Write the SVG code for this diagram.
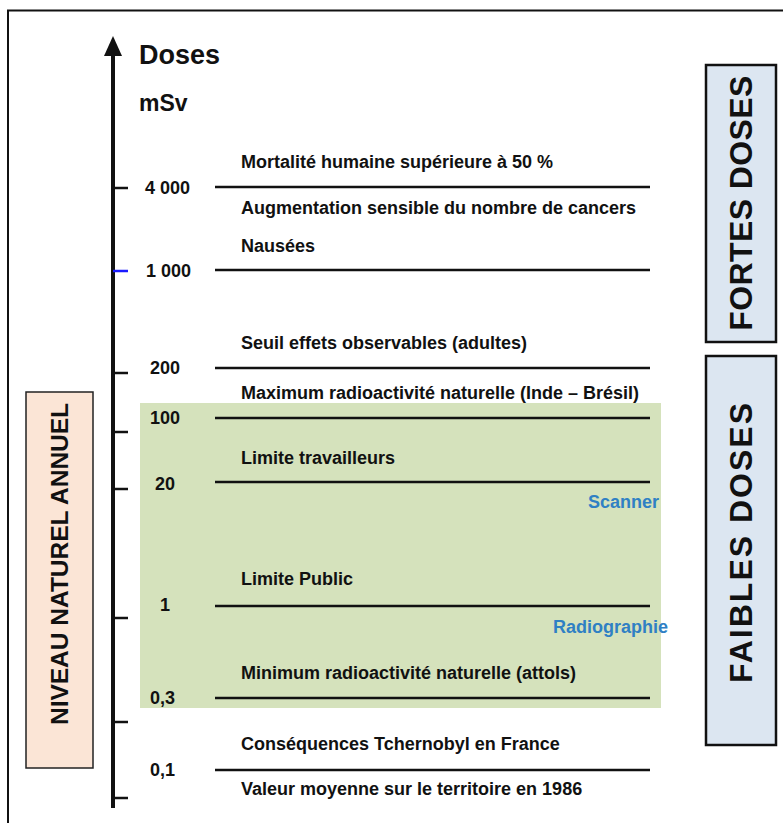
<svg xmlns="http://www.w3.org/2000/svg" width="783" height="823" viewBox="0 0 783 823">
<style>
text{font-family:"Liberation Sans",Arial,sans-serif;font-weight:bold;fill:#111}
.lbl{font-size:18px}
.val{font-size:18px}
.blue{font-size:18px;fill:#2f80c4}
.lvl{stroke:#111;stroke-width:2.5}
.tick{stroke:#111;stroke-width:2.5}
.side{fill:#dce6f1;stroke:#111;stroke-width:2.5}
.side text{font-size:32px;stroke:none;fill:#111}
</style>
<rect width="783" height="823" fill="#fff"/>
<path d="M8 823 V10.5 H783" fill="none" stroke="#111" stroke-width="2"/>
<rect id="zone-naturel" x="140" y="403" width="521" height="305" fill="#d5e2bc"/>
<g id="axis">
<line x1="113" y1="808" x2="113" y2="52" stroke="#111" stroke-width="4"/>
<polygon points="113,36 104,56 122,56" fill="#111"/>
<line class="tick" x1="113" y1="188" x2="128" y2="188"/>
<line x1="113" y1="271" x2="128" y2="271" stroke="#1a1aff" stroke-width="2.5"/>
<line class="tick" x1="113" y1="373" x2="128" y2="373"/>
<line class="tick" x1="113" y1="432" x2="128" y2="432"/>
<line class="tick" x1="113" y1="489" x2="128" y2="489"/>
<line class="tick" x1="113" y1="618" x2="128" y2="618"/>
<line class="tick" x1="113" y1="722" x2="128" y2="722"/>
<line class="tick" x1="113" y1="798" x2="128" y2="798"/>
<text x="139" y="64" font-size="27">Doses</text>
<text x="139" y="111" font-size="23">mSv</text>
</g>
<g id="levels">
<line class="lvl" x1="215" y1="187" x2="650" y2="187"/>
<line class="lvl" x1="215" y1="270" x2="650" y2="270"/>
<line class="lvl" x1="215" y1="368" x2="650" y2="368"/>
<line class="lvl" x1="215" y1="418" x2="650" y2="418"/>
<line class="lvl" x1="215" y1="482" x2="650" y2="482"/>
<line class="lvl" x1="215" y1="606" x2="650" y2="606"/>
<line class="lvl" x1="215" y1="698" x2="650" y2="698"/>
<line class="lvl" x1="215" y1="770" x2="650" y2="770"/>
</g>
<g id="values">
<text class="val" x="145" y="194">4 000</text>
<text class="val" x="146" y="277">1 000</text>
<text class="val" x="150" y="374">200</text>
<text class="val" x="150" y="424">100</text>
<text class="val" x="155" y="490">20</text>
<text class="val" x="160" y="611">1</text>
<text class="val" x="150" y="704">0,3</text>
<text class="val" x="150" y="776">0,1</text>
</g>
<g id="labels">
<text class="lbl" x="241" y="168">Mortalité humaine supérieure à 50 %</text>
<text class="lbl" x="241" y="214">Augmentation sensible du nombre de cancers</text>
<text class="lbl" x="241" y="252">Nausées</text>
<text class="lbl" x="241" y="349">Seuil effets observables (adultes)</text>
<text class="lbl" x="241" y="399">Maximum radioactivité naturelle (Inde – Brésil)</text>
<text class="lbl" x="241" y="464">Limite travailleurs</text>
<text class="lbl" x="241" y="585">Limite Public</text>
<text class="lbl" x="241" y="679">Minimum radioactivité naturelle (attols)</text>
<text class="lbl" x="241" y="750">Conséquences Tchernobyl en France</text>
<text class="lbl" x="241" y="795">Valeur moyenne sur le territoire en 1986</text>
<text class="blue" x="588" y="508">Scanner</text>
<text class="blue" x="553" y="633">Radiographie</text>
</g>
<g id="fortes-doses" class="side">
<rect x="706" y="65" width="70" height="277"/>
<text transform="translate(752,203) rotate(-90)" text-anchor="middle" letter-spacing="0.4">FORTES  DOSES</text>
</g>
<g id="faibles-doses" class="side">
<rect x="706" y="356" width="70" height="389"/>
<text transform="translate(752,542) rotate(-90)" text-anchor="middle" letter-spacing="2">FAIBLES  DOSES</text>
</g>
<g id="niveau-naturel">
<rect x="26" y="392" width="67" height="376" fill="#fbe5d6" stroke="#222" stroke-width="1.5"/>
<text transform="translate(68,564) rotate(-90)" text-anchor="middle" font-size="24.5">NIVEAU  NATUREL  ANNUEL</text>
</g>
</svg>
